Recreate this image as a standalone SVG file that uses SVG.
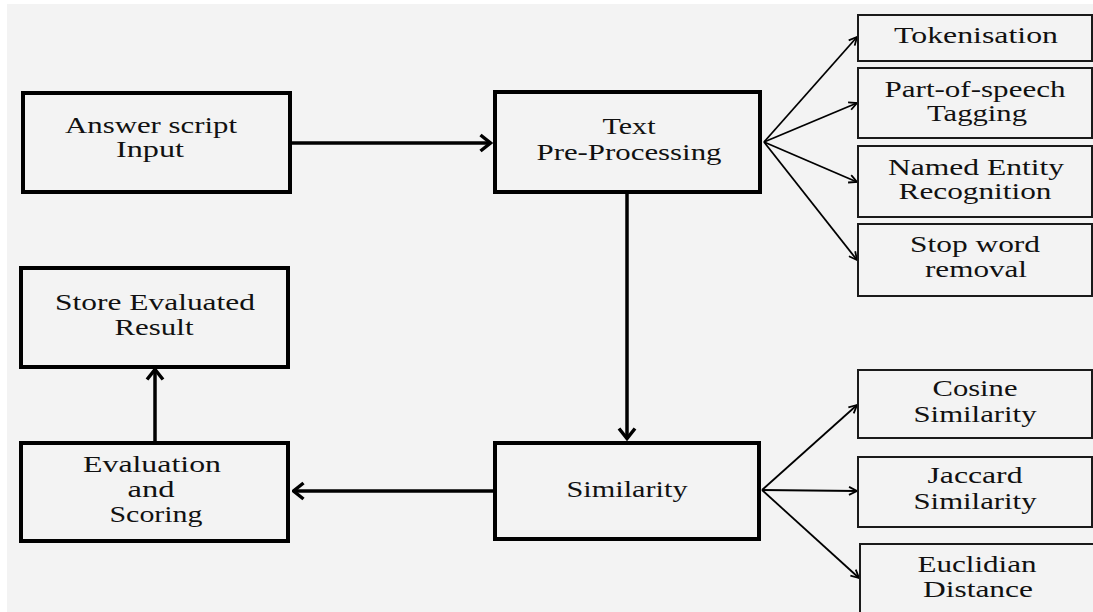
<svg xmlns="http://www.w3.org/2000/svg" width="1093" height="612" viewBox="0 0 1093 612">
<defs>
<style>
.bg{fill:#f3f3f3}
.main{fill:#f3f3f3;stroke:#000;stroke-width:4}
.sub{fill:#f3f3f3;stroke:#1a1a1a;stroke-width:2}
.t{font-family:"Liberation Serif","Times New Roman",serif;font-size:23px;fill:#111;text-anchor:middle}
.thick{stroke:#000;stroke-width:3.5;fill:none}
.thin{stroke:#000;stroke-width:1.8;fill:none}
</style>
<marker id="ah" markerUnits="userSpaceOnUse" viewBox="0 0 14 20" refX="12.5" refY="10" markerWidth="14" markerHeight="20" orient="auto">
<path d="M2,2 L12,10 L2,18" fill="none" stroke="#000" stroke-width="3.5"/>
</marker>
<marker id="as" markerUnits="userSpaceOnUse" viewBox="0 0 10 10" refX="9" refY="5" markerWidth="10" markerHeight="10" orient="auto">
<path d="M1,1 L9,5 L1,9" fill="none" stroke="#000" stroke-width="1.8"/>
</marker>
</defs>
<rect x="0" y="0" width="1093" height="612" fill="#ffffff"/>
<rect class="bg" x="7" y="4" width="1086" height="608"/>

<g id="connectors">
<line class="thick" x1="292" y1="143" x2="491" y2="143" marker-end="url(#ah)"/>
<line class="thick" x1="627" y1="194" x2="627" y2="439" marker-end="url(#ah)"/>
<line class="thick" x1="493" y1="491" x2="293" y2="491" marker-end="url(#ah)"/>
<line class="thick" x1="155" y1="441" x2="155" y2="369" marker-end="url(#ah)"/>
<line class="thin" x1="764" y1="142" x2="857" y2="37" marker-end="url(#as)"/>
<line class="thin" x1="764" y1="142" x2="857" y2="103" marker-end="url(#as)"/>
<line class="thin" x1="764" y1="142" x2="857" y2="182" marker-end="url(#as)"/>
<line class="thin" x1="764" y1="142" x2="857" y2="260" marker-end="url(#as)"/>
<line class="thin" x1="762" y1="490" x2="857" y2="405" marker-end="url(#as)"/>
<line class="thin" x1="762" y1="490" x2="857" y2="491" marker-end="url(#as)"/>
<line class="thin" x1="762" y1="490" x2="859" y2="578" marker-end="url(#as)"/>
</g>

<g id="answer">
<rect class="main" x="23" y="93" width="267" height="99"/>
<text class="t" x="151" y="133" textLength="172" lengthAdjust="spacingAndGlyphs">Answer script</text>
<text class="t" x="150" y="157" textLength="68" lengthAdjust="spacingAndGlyphs">Input</text>
</g>

<g id="preproc">
<rect class="main" x="495" y="92" width="265" height="100"/>
<text class="t" x="629" y="134" textLength="53" lengthAdjust="spacingAndGlyphs">Text</text>
<text class="t" x="629" y="160" textLength="185" lengthAdjust="spacingAndGlyphs">Pre-Processing</text>
</g>

<g id="tokenisation">
<rect class="sub" x="858" y="15" width="234" height="46"/>
<text class="t" x="976" y="43" textLength="164" lengthAdjust="spacingAndGlyphs">Tokenisation</text>
</g>

<g id="pos">
<rect class="sub" x="858" y="68" width="234" height="70"/>
<text class="t" x="975" y="97" textLength="181" lengthAdjust="spacingAndGlyphs">Part-of-speech</text>
<text class="t" x="977" y="121" textLength="100" lengthAdjust="spacingAndGlyphs">Tagging</text>
</g>

<g id="ner">
<rect class="sub" x="858" y="146" width="234" height="71"/>
<text class="t" x="976" y="175" textLength="176" lengthAdjust="spacingAndGlyphs">Named Entity</text>
<text class="t" x="975" y="199" textLength="153" lengthAdjust="spacingAndGlyphs">Recognition</text>
</g>

<g id="stopword">
<rect class="sub" x="858" y="224" width="234" height="72"/>
<text class="t" x="975" y="252" textLength="130" lengthAdjust="spacingAndGlyphs">Stop word</text>
<text class="t" x="976" y="277" textLength="102" lengthAdjust="spacingAndGlyphs">removal</text>
</g>

<g id="store">
<rect class="main" x="21" y="268" width="267" height="99"/>
<text class="t" x="155" y="310" textLength="200" lengthAdjust="spacingAndGlyphs">Store Evaluated</text>
<text class="t" x="154" y="335" textLength="79" lengthAdjust="spacingAndGlyphs">Result</text>
</g>

<g id="evaluation">
<rect class="main" x="21" y="443" width="267" height="98"/>
<text class="t" x="152" y="472" textLength="138" lengthAdjust="spacingAndGlyphs">Evaluation</text>
<text class="t" x="151" y="497" textLength="47" lengthAdjust="spacingAndGlyphs">and</text>
<text class="t" x="156" y="522" textLength="93" lengthAdjust="spacingAndGlyphs">Scoring</text>
</g>

<g id="similarity">
<rect class="main" x="495" y="443" width="264" height="96"/>
<text class="t" x="627" y="497" textLength="121" lengthAdjust="spacingAndGlyphs">Similarity</text>
</g>

<g id="cosine">
<rect class="sub" x="858" y="370" width="234" height="68"/>
<text class="t" x="975" y="396" textLength="85" lengthAdjust="spacingAndGlyphs">Cosine</text>
<text class="t" x="975" y="422" textLength="123" lengthAdjust="spacingAndGlyphs">Similarity</text>
</g>

<g id="jaccard">
<rect class="sub" x="858" y="457" width="234" height="70"/>
<text class="t" x="975" y="483" textLength="95" lengthAdjust="spacingAndGlyphs">Jaccard</text>
<text class="t" x="975" y="509" textLength="123" lengthAdjust="spacingAndGlyphs">Similarity</text>
</g>

<g id="euclidian">
<rect class="sub" x="860" y="544" width="234" height="80"/>
<text class="t" x="977" y="572" textLength="119" lengthAdjust="spacingAndGlyphs">Euclidian</text>
<text class="t" x="978" y="597" textLength="110" lengthAdjust="spacingAndGlyphs">Distance</text>
</g>
</svg>
